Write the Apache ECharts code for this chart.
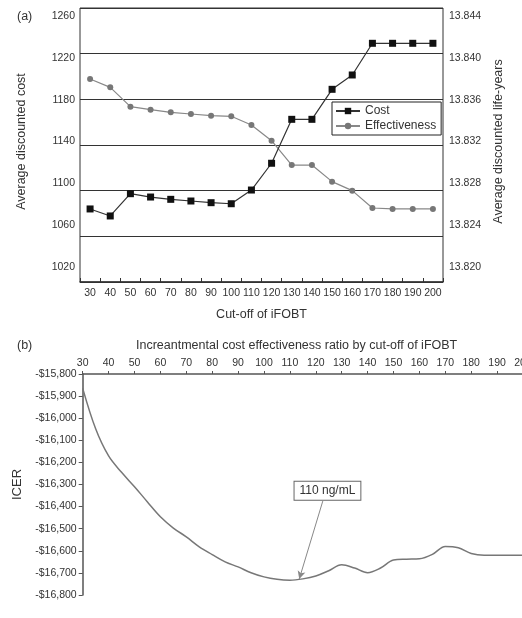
<!DOCTYPE html>
<html>
<head>
<meta charset="utf-8">
<script src="https://cdn.jsdelivr.net/npm/echarts@6/dist/echarts.min.js"></script>
<style>
html,body{margin:0;padding:0;background:#fff;}
#chart{width:522px;height:618px;}
</style>
</head>
<body>
<div id="chart"></div>
<script>
// ---- Panel (a) data ----
const categories = ['30','40','50','60','70','80','90','100','110','120','130','140','150','160','170','180','190','200'];
const costValues = [1075.5,1068.8,1090.1,1086.9,1084.7,1083.1,1081.5,1080.5,1093.6,1119.2,1161.2,1161.2,1189.9,1203.6,1233.9,1233.9,1233.9,1233.9];
const effectivenessValues = [13.83798,13.83718,13.83533,13.83504,13.83479,13.83463,13.83447,13.83441,13.83358,13.83208,13.82975,13.82975,13.82816,13.82730,13.82564,13.82555,13.82555,13.82555];
const costTicks = [1020,1260,40];
const lifeTicks = [13.820,13.844,0.004];

// ---- Panel (b) data ----
const icerCutoffs = [30,35,40,45,50,55,60,65,70,75,80,85,90,95,100,105,110,115,120,125,130,135,140,145,150,155,160,165,170,175,180,185,190,195,200];
const icerValues = [-15865,-16048,-16171,-16245,-16310,-16379,-16446,-16497,-16537,-16582,-16617,-16650,-16673,-16699,-16718,-16729,-16733,-16727,-16714,-16690,-16663,-16678,-16699,-16678,-16642,-16638,-16636,-16616,-16580,-16586,-16612,-16620,-16620,-16620,-16620];
const icerTicks = [-16800,-15800,100];
const annotationText = '110 ng/mL';
const annotationFrom = [122.7,-16375];
const annotationTo = [113.6,-16728];
const annotationLabelAt = [124.5,-16328];

const FONT = '"Liberation Sans", Arial, Helvetica, sans-serif';
const TXT = '#333';

const chart = echarts.init(document.getElementById('chart'), null, {renderer:'canvas'});

const option = {
  animation:false,
  backgroundColor:'#fff',
  textStyle:{fontFamily:FONT},
  title:[
    {text:'(a)', left:12, top:5, textStyle:{fontSize:12.5, fontWeight:'normal', color:TXT, fontFamily:FONT}},
    {text:'(b)', left:12, top:334, textStyle:{fontSize:12.5, fontWeight:'normal', color:TXT, fontFamily:FONT}},
    {text:'Increantmental cost effectiveness ratio by cut-off of iFOBT', left:131, top:334, textStyle:{fontSize:12.5, fontWeight:'normal', color:TXT, fontFamily:FONT}}
  ],
  legend:{
    show:true,
    orient:'vertical',
    left:332, top:102,
    padding:[3,5,3,3],
    itemGap:3,
    itemWidth:24, itemHeight:8,
    borderColor:'#222', borderWidth:1,
    backgroundColor:'#fff',
    textStyle:{fontSize:12, color:TXT, fontFamily:FONT},
    data:['Cost','Effectiveness']
  },
  grid:[
    {left:80, top:8, width:363, height:274, show:true, borderColor:'#333', borderWidth:1, backgroundColor:'transparent', containLabel:false, outerBoundsMode:'none'},
    {left:80, top:16, width:363, height:251, containLabel:false, outerBoundsMode:'none'},
    {left:82.7, top:374, width:440.3, height:221, containLabel:false, outerBoundsMode:'none'}
  ],
  xAxis:[
    {gridIndex:0, type:'category', data:categories, boundaryGap:true, position:'bottom',
     axisLine:{lineStyle:{color:'#333', width:1.5}},
     axisTick:{show:true, inside:true, length:4, lineStyle:{color:'#333'}},
     axisLabel:{fontSize:10.5, color:TXT, margin:6, interval:0, fontFamily:FONT},
     name:'Cut-off of iFOBT', nameLocation:'middle', nameGap:26,
     nameTextStyle:{fontSize:12.5, color:TXT, fontFamily:FONT},
     splitLine:{show:false}},
    {gridIndex:1, type:'category', data:categories, boundaryGap:true, show:false},
    {gridIndex:2, type:'value', min:30, max:200, interval:10, position:'top',
     axisLine:{lineStyle:{color:'#555', width:1.5}},
     axisTick:{show:true, inside:false, length:3, lineStyle:{color:'#555'}},
     axisLabel:{fontSize:10.5, color:TXT, margin:5, fontFamily:FONT, showMaxLabel:true},
     splitLine:{show:false}}
  ],
  yAxis:[
    {gridIndex:0, type:'value', min:0, max:6, interval:1,
     axisLine:{show:false}, axisTick:{show:false}, axisLabel:{show:false},
     splitLine:{show:true, lineStyle:{color:'#333', width:1}}},
    {gridIndex:1, type:'value', position:'left', min:costTicks[0], max:costTicks[1], interval:costTicks[2],
     axisLine:{show:false}, axisTick:{show:false}, splitLine:{show:false},
     axisLabel:{fontSize:10.5, color:TXT, margin:5, fontFamily:FONT, formatter:v=>String(v)},
     name:'Average discounted cost', nameLocation:'middle', nameGap:52, nameRotate:90,
     nameTextStyle:{fontSize:12.5, color:TXT, fontFamily:FONT}},
    {gridIndex:1, type:'value', position:'right', min:lifeTicks[0], max:lifeTicks[1], interval:lifeTicks[2],
     axisLine:{show:false}, axisTick:{show:false}, splitLine:{show:false},
     axisLabel:{fontSize:10.5, color:TXT, margin:6, fontFamily:FONT, formatter:v=>v.toFixed(3)},
     name:'Average discounted life-years', nameLocation:'middle', nameGap:49, nameRotate:90,
     nameTextStyle:{fontSize:12.5, color:TXT, fontFamily:FONT}},
    {gridIndex:2, type:'value', min:icerTicks[0], max:icerTicks[1], interval:icerTicks[2],
     axisLine:{show:true, lineStyle:{color:'#555', width:1.5}},
     axisTick:{show:true, inside:false, length:4, lineStyle:{color:'#555'}},
     splitLine:{show:false},
     axisLabel:{fontSize:10.5, color:TXT, margin:6, fontFamily:FONT,
       formatter:v=>(v<0?'-$':'$')+Math.abs(v).toLocaleString('en-US')},
     name:'ICER', nameLocation:'middle', nameGap:53, nameRotate:90,
     nameTextStyle:{fontSize:13, color:TXT, fontFamily:FONT}}
  ],
  series:[
    {name:'Cost', type:'line', xAxisIndex:1, yAxisIndex:1, data:costValues,
     symbol:'rect', symbolSize:7, showSymbol:true,
     lineStyle:{color:'#333', width:1.2}, itemStyle:{color:'#111'}, z:3},
    {name:'Effectiveness', type:'line', xAxisIndex:1, yAxisIndex:2, data:effectivenessValues,
     symbol:'circle', symbolSize:6, showSymbol:true,
     lineStyle:{color:'#888', width:1.2}, itemStyle:{color:'#777'}, z:2},
    {name:'ICER', type:'line', xAxisIndex:2, yAxisIndex:3,
     data:icerCutoffs.map((c,i)=>[c,icerValues[i]]),
     smooth:0.35, showSymbol:false, symbol:'none',
     lineStyle:{color:'#777', width:1.5},
     markLine:{silent:true, symbol:['none','arrow'], symbolSize:[6,8],
       lineStyle:{color:'#888', width:1, type:'solid'}, label:{show:false},
       data:[[{coord:annotationFrom},{coord:annotationTo}]]},
     markPoint:{silent:true, symbol:'rect', symbolSize:0,
       data:[{coord:annotationLabelAt, value:annotationText}],
       label:{show:true, position:'inside', formatter:annotationText, color:TXT, fontSize:12, fontFamily:FONT,
         backgroundColor:'#fff', borderColor:'#666', borderWidth:1, padding:[3,5,3,5]}}}
  ]
};
chart.setOption(option);
</script>
</body>
</html>
